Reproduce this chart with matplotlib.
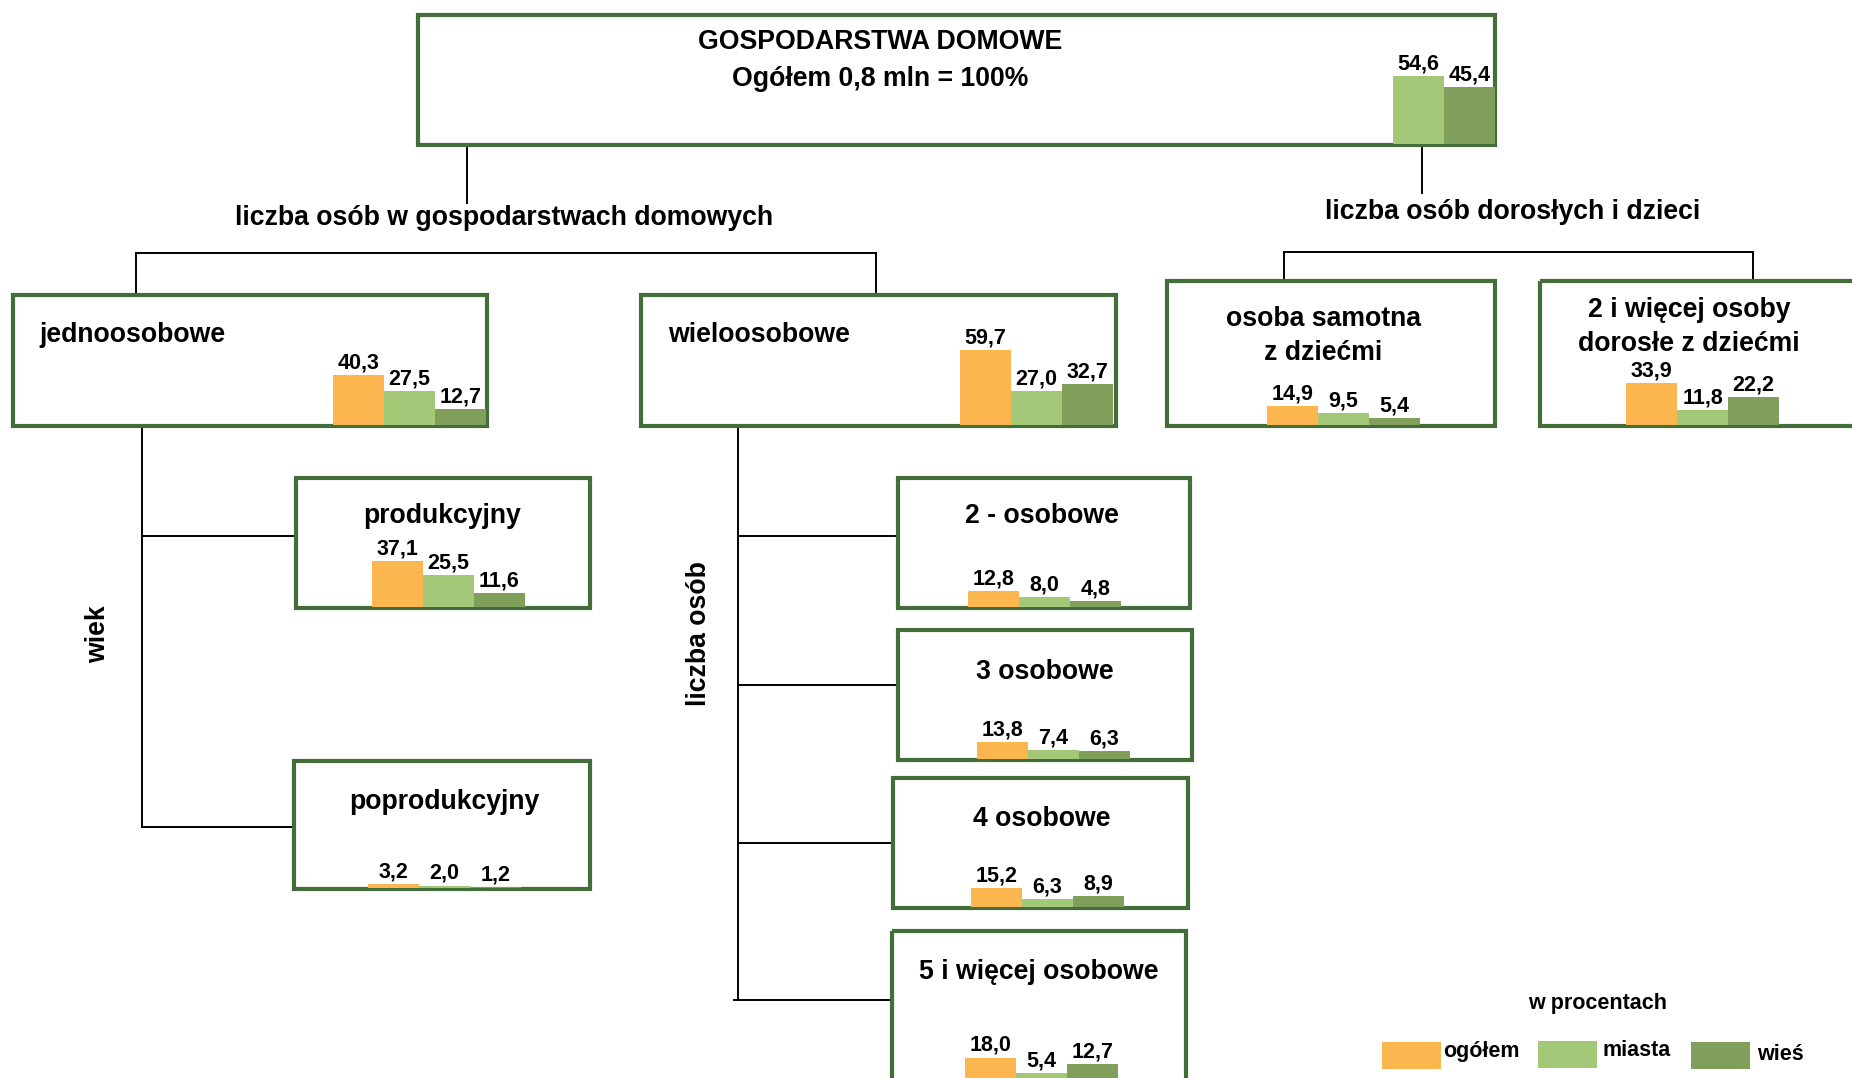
import numpy as np
import matplotlib
matplotlib.use('Agg')
import matplotlib.pyplot as plt
from matplotlib.patches import Rectangle

plt.rcParams['font.family'] = ['Liberation Sans', 'DejaVu Sans']
plt.rcParams['font.weight'] = 'bold'

# dane (w procentach)
kategorie = ['jednoosobowe', 'wieloosobowe', 'produkcyjny', 'poprodukcyjny',
             '2 - osobowe', '3 osobowe', '4 osobowe', '5 i więcej osobowe',
             'osoba samotna\nz dziećmi', '2 i więcej osoby\ndorosłe z dziećmi']
ogolem = [40.3, 59.7, 37.1, 3.2, 12.8, 13.8, 15.2, 18.0, 14.9, 33.9]
miasta = [27.5, 27.0, 25.5, 2.0, 8.0, 7.4, 6.3, 5.4, 9.5, 11.8]
wies = [12.7, 32.7, 11.6, 1.2, 4.8, 6.3, 8.9, 12.7, 5.4, 22.2]
ogolem_razem_miasta = 54.6
ogolem_razem_wies = 45.4
legenda = ['ogółem', 'miasta', 'wieś']

kolory = ['#fbb64f', '#a3c978', '#7f9f5a']
ramka = '#436e3a'
W, H = 1852, 1078
S = 1.25      # px na 1%
bw = 51       # szerokosc slupka
fs = 19.2     # napisy
fv = 15.5     # wartosci

# ramki: x0, y0, x1, y1, pozycja tytulu, wyrownanie, x pierwszego slupka, dol slupkow
uklad = [
    (13, 295, 487, 426, (39, 335), 'left', 333, 425),
    (641, 295, 1116, 426, (668, 335), 'left', 960, 425),
    (296, 478, 590, 608, (442, 516), 'center', 372, 607),
    (294, 761, 590, 889, (444, 802), 'center', 368, 888),
    (898, 478, 1190, 608, (1042, 516), 'center', 968, 607),
    (898, 630, 1192, 760, (1045, 672), 'center', 977, 759),
    (893, 778, 1188, 908, (1042, 819), 'center', 971, 907),
    (892, 931, 1186, 1110, (1039, 972), 'center', 965, 1080),
    (1167, 281, 1495, 426, (1323, 336), 'center', 1267, 425),
    (1540, 281, 1880, 426, (1689, 327), 'center', 1626, 425),
]

fig = plt.figure(figsize=(W / 100, H / 100), dpi=100)
ax = fig.add_axes([0, 0, 1, 1])
ax.set_xlim(0, W)
ax.set_ylim(H, 0)
ax.axis('off')

def slupki(x0, yb, wartosci, cols):
    xs = x0 + bw * np.arange(len(wartosci))
    h = -S * np.array(wartosci)
    ax.bar(xs, h, width=bw, bottom=yb, align='edge', color=cols, zorder=3)
    for xx, v in zip(xs, wartosci):
        ax.text(xx + bw / 2, yb - S * v - 1.5, ('%.1f' % v).replace('.', ','),
                ha='center', va='bottom', fontsize=fv, zorder=4)

def linia(xs, ys):
    ax.plot(xs, ys, color='black', lw=1.4, zorder=1)

# ramka glowna
ax.add_patch(Rectangle((418, 15), 1495 - 418, 145 - 15, fill=False,
                       ec=ramka, lw=3, zorder=2))
ax.text(880, 42, 'GOSPODARSTWA DOMOWE', ha='center', va='center', fontsize=fs)
ax.text(880, 79, 'Ogółem 0,8 mln = 100%', ha='center', va='center', fontsize=fs)
slupki(1393, 144, [ogolem_razem_miasta, ogolem_razem_wies], kolory[1:])

# polaczenia
linia([467, 467], [145, 203])
linia([1422, 1422], [145, 193])
linia([136, 876], [253, 253])
linia([136, 136], [253, 295])
linia([876, 876], [253, 295])
linia([1284, 1753], [252, 252])
linia([1284, 1284], [252, 281])
linia([1753, 1753], [252, 281])
linia([142, 142], [426, 827])
linia([142, 296], [536, 536])
linia([142, 294], [827, 827])
linia([738, 738], [426, 1000])
linia([738, 898], [536, 536])
linia([738, 898], [685, 685])
linia([738, 893], [843, 843])
linia([734, 892], [1000, 1000])

ax.text(504, 218, 'liczba osób w gospodarstwach domowych', ha='center',
        va='center', fontsize=fs)
ax.text(1513, 212, 'liczba osób dorosłych i dzieci', ha='center',
        va='center', fontsize=fs)
ax.text(98, 634, 'wiek', ha='center', va='center', fontsize=fs, rotation=90)
ax.text(699, 634, 'liczba osób', ha='center', va='center', fontsize=fs,
        rotation=90)

for i, (x0, y0, x1, y1, tp, al, bx, yb) in enumerate(uklad):
    ax.add_patch(Rectangle((x0, y0), x1 - x0, y1 - y0, fill=False,
                           ec=ramka, lw=3, zorder=2))
    ax.text(tp[0], tp[1], kategorie[i], ha=al, va='center', fontsize=fs,
            linespacing=1.4, multialignment='center')
    slupki(bx, yb, [ogolem[i], miasta[i], wies[i]], kolory)

# legenda
ax.text(1598, 1004, 'w procentach', ha='center', va='center', fontsize=fv)
lx = [1382, 1538, 1691]
ly = [1042, 1041, 1042]
tx = [1443, 1602, 1757]
ty = [1051, 1050, 1055]
for k in range(3):
    ax.add_patch(Rectangle((lx[k], ly[k]), 59, 27, color=kolory[k], lw=0))
    ax.text(tx[k], ty[k], legenda[k], ha='left', va='center', fontsize=fv)

fig.savefig('out.png', dpi=100)
